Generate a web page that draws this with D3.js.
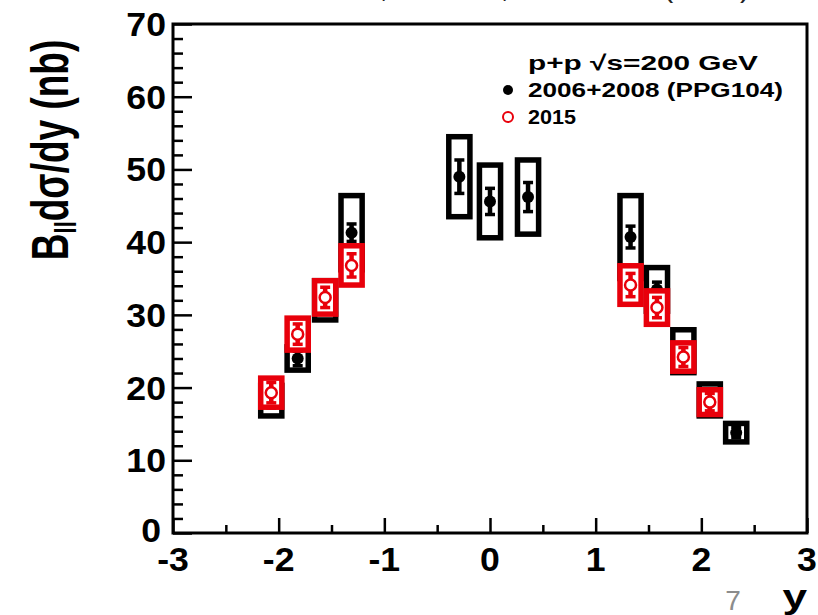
<!DOCTYPE html>
<html>
<head>
<meta charset="utf-8">
<script src="https://cdn.jsdelivr.net/npm/d3@7"></script>
<style>
  html, body { margin: 0; padding: 0; background: #fff; }
  svg { display: block; }
  text { font-family: "Liberation Sans", Arial, Helvetica, sans-serif; }
</style>
</head>
<body>
<div id="chart"></div>
<script>
// J/psi rapidity dependence, p+p at 200 GeV
// 2006+2008 (PPG104) points: rapidity, value (nb), stat and syst errors
const rapOld   = [-2.07, -1.82, -1.56, -1.31, -0.29, 0.0, 0.36, 1.33, 1.58, 1.83, 2.08, 2.33];
const valOld   = [18.2, 24.0, 32.0, 41.3, 49.0, 45.6, 46.2, 40.7, 33.5, 25.0, 18.3, 13.8];
const statOld  = [1.0, 1.0, 1.0, 1.2, 2.3, 1.8, 2.0, 1.5, 1.0, 1.0, 0.9, 0.7];
const systOld  = [2.1, 1.6, 2.7, 5.1, 5.5, 5.0, 5.1, 5.7, 3.0, 2.95, 2.2, 1.27];

// 2015 points
const rapNew   = [-2.07, -1.82, -1.56, -1.31, 1.33, 1.58, 1.83, 2.08];
const valNew   = [19.3, 27.35, 32.4, 36.8, 34.1, 31.0, 24.2, 18.0];
const statNew  = [1.4, 1.4, 1.4, 1.6, 1.6, 1.4, 1.3, 1.2];
const systNew  = [2.0, 2.2, 2.3, 2.7, 2.65, 2.3, 1.95, 1.7];

const xTicks = [-3, -2, -1, 0, 1, 2, 3];
const xMinor = [-2.5, -1.5, -0.5, 0.5, 1.5, 2.5];
const yTicks = [0, 10, 20, 30, 40, 50, 60, 70];
const yMinor = d3.range(0, 71, 2).filter(v => v % 10 !== 0);

const legendLines = ["p+p \u221As=200 GeV", "2006+2008 (PPG104)", "2015"];
const legendWidths = [230, 255, 48];

const W = 818, H = 615;
const SX = 1.08;               // horizontal stretch of the tick lettering
const boxHalf = 0.1;           // half width of the systematic boxes (rapidity units)

const svg = d3.select("#chart").append("svg").attr("width", W).attr("height", H);

const x = d3.scaleLinear().domain([-3, 3]).range([173, 807]);
const y = d3.scaleLinear().domain([0, 70]).range([533, 24]);

// heading line running off the top edge
const head = svg.append("text").attr("y", -3).attr("font-size", 30).attr("fill", "#222");
head.append("tspan").attr("x", 388).attr("text-anchor", "end").text("PHENIX Run 15,");
head.append("tspan").attr("x", 509).attr("text-anchor", "end").text("200 GeV,");
head.append("tspan").attr("x", 750).attr("text-anchor", "end").text("RHIC (2015)");

// axis ticks
const axL = svg.append("g").attr("transform", `translate(${x(-3)},0)`)
  .call(d3.axisRight(y).tickValues(yTicks).tickSize(19).tickFormat(""));
const axLm = svg.append("g").attr("transform", `translate(${x(-3)},0)`)
  .call(d3.axisRight(y).tickValues(yMinor).tickSize(10).tickFormat(""));
const axB = svg.append("g").attr("transform", `translate(0,${y(0)})`)
  .call(d3.axisTop(x).tickValues(xTicks).tickSize(15).tickFormat(""));
const axBm = svg.append("g").attr("transform", `translate(0,${y(0)})`)
  .call(d3.axisTop(x).tickValues(xMinor).tickSize(8).tickFormat(""));
[axL, axLm, axB, axBm].forEach(g => {
  g.select(".domain").remove();
  g.selectAll(".tick line").attr("stroke", "#000").attr("stroke-width", 2.5);
});

// frame
svg.append("rect")
  .attr("x", x(-3)).attr("y", y(70))
  .attr("width", x(3) - x(-3)).attr("height", y(0) - y(70))
  .attr("fill", "none").attr("stroke", "#000").attr("stroke-width", 3);

// tick labels
svg.append("g").selectAll("text").data(yTicks).join("text")
  .attr("transform", d => `translate(${d === 0 ? 161 : 166},${y(d) + (d === 0 ? 9 : 12)}) scale(${SX},1)`)
  .attr("text-anchor", "end").attr("font-size", 33).attr("font-weight", "bold")
  .text(d => d);
svg.append("g").selectAll("text").data(xTicks).join("text")
  .attr("transform", d => `translate(${x(d)},${y(0) + 38}) scale(${SX},1)`)
  .attr("text-anchor", "middle").attr("font-size", 33).attr("font-weight", "bold")
  .text(d => d);

// axis titles
const yt = svg.append("text")
  .attr("transform", `translate(68,150) scale(1.38,1) rotate(-90)`)
  .attr("text-anchor", "middle").attr("font-size", 37).attr("font-weight", "bold");
yt.append("tspan").text("B");
yt.append("tspan").attr("font-size", 22).attr("dy", 6).text("ll");
yt.append("tspan").attr("dy", -6).text("d\u03C3/dy (nb)");

svg.append("text")
  .attr("transform", `translate(807,608) scale(1.3,1)`)
  .attr("text-anchor", "end").attr("font-size", 34).attr("font-weight", "bold")
  .text("y");

// page number
svg.append("text").attr("x", 733).attr("y", 610).attr("text-anchor", "middle")
  .attr("font-size", 28).attr("fill", "#8c8c8c")
  .attr("font-family", "Carlito, 'Open Sans', sans-serif").text("7");

// data layers
function drawSeries(rap, val, stat, syst, color, open) {
  const g = svg.append("g");
  const pts = rap.map((r, i) => ({ r, v: val[i], s: stat[i], e: syst[i] }));
  // systematic boxes
  g.selectAll("rect.sys").data(pts).join("rect").attr("class", "sys")
    .attr("x", d => x(d.r - boxHalf)).attr("width", d => x(d.r + boxHalf) - x(d.r - boxHalf))
    .attr("y", d => y(d.v + d.e)).attr("height", d => y(d.v - d.e) - y(d.v + d.e))
    .attr("fill", "#fff").attr("stroke", color).attr("stroke-width", 5.5);
  // statistical bars with caps
  g.selectAll("line.stat").data(pts).join("line").attr("class", "stat")
    .attr("x1", d => x(d.r)).attr("x2", d => x(d.r))
    .attr("y1", d => y(d.v + d.s)).attr("y2", d => y(d.v - d.s))
    .attr("stroke", color).attr("stroke-width", 4.5);
  ["+", "-"].forEach(sgn => {
    g.selectAll("line.cap" + (sgn === "+" ? "u" : "d")).data(pts).join("line")
      .attr("class", "cap" + (sgn === "+" ? "u" : "d"))
      .attr("x1", d => x(d.r) - 5).attr("x2", d => x(d.r) + 5)
      .attr("y1", d => y(sgn === "+" ? d.v + d.s : d.v - d.s))
      .attr("y2", d => y(sgn === "+" ? d.v + d.s : d.v - d.s))
      .attr("stroke", color).attr("stroke-width", 3.5);
  });
  // markers
  g.selectAll("circle").data(pts).join("circle")
    .attr("cx", d => x(d.r)).attr("cy", d => y(d.v))
    .attr("r", open ? 5.5 : 6)
    .attr("fill", open ? "#fff" : color)
    .attr("stroke", color).attr("stroke-width", open ? 2.5 : 0);
}
drawSeries(rapOld, valOld, statOld, systOld, "#000", false);
drawSeries(rapNew, valNew, statNew, systNew, "#e8000b", true);

// legend
const lg = svg.append("g");
lg.selectAll("text").data(legendLines).join("text")
  .attr("x", 528).attr("y", (d, i) => 70 + i * 27)
  .attr("textLength", (d, i) => legendWidths[i]).attr("lengthAdjust", "spacingAndGlyphs")
  .attr("font-size", 21).attr("font-weight", "bold").text(d => d);
lg.append("circle").attr("cx", 508).attr("cy", 90).attr("r", 5).attr("fill", "#000");
lg.append("circle").attr("cx", 508).attr("cy", 117).attr("r", 5)
  .attr("fill", "none").attr("stroke", "#e8000b").attr("stroke-width", 2);
</script>
</body>
</html>
